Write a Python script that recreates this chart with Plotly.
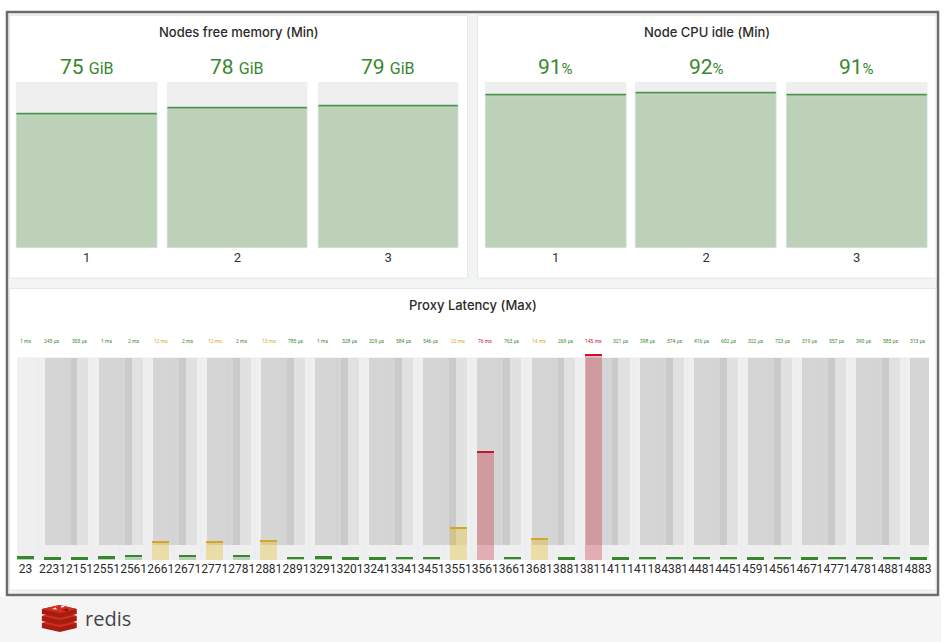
import plotly.graph_objects as go

W, H = 944, 642

# ---------------- data ----------------
mem_nodes = ["1", "2", "3"]
mem_free_gib = [75, 78, 79]

cpu_nodes = ["1", "2", "3"]
cpu_idle_pct = [91, 92, 91]

proxy_labels = ["23", "2231", "2151", "2551", "2561", "2661", "2671", "2771", "2781",
                "2881", "2891", "3291", "3201", "3241", "3341", "3451", "3551", "3561",
                "3661", "3681", "3881", "3811", "4111", "4118", "4381", "4481", "4451",
                "4591", "4561", "4671", "4771", "4781", "4881", "4883"]
proxy_latency_ms = [1, 0.245, 0.303, 1, 2, 12, 2, 12, 2, 13, 0.785, 1, 0.328, 0.329,
                    0.584, 0.546, 22, 76, 0.763, 14, 0.269, 145, 0.321, 0.398, 0.574,
                    0.416, 0.602, 0.322, 0.723, 0.319, 0.557, 0.390, 0.585, 0.313]

# ---------------- helpers ----------------
def px(x):
    return x / W

def py(y):
    return 1 - y / H

GREEN = "#37872d"
GREEN_FILL = "#bdd1b9"
BG_CELL = "#efefef"
FONT = "Roboto"

def lat_color(v):
    if v >= 50:
        return "#c4162a"
    if v >= 10:
        return "#d9a520"
    return GREEN

def lat_fill(v):
    if v >= 50:
        return "rgba(196,22,42,0.30)"
    if v >= 10:
        return "rgba(224,180,0,0.30)"
    return "rgba(55,135,45,0.30)"

def lat_text(v):
    if v < 1:
        return f"{v * 1000:.0f} µs"
    return f"{v:.0f} ms"

fig = go.Figure()

# ---------------- top panels ----------------
top_y0, top_y1 = 82, 248
top_h = top_y1 - top_y0
mem_max = 92
cpu_max = 98

def gauge_panel(vals, vmax, xa, ya, width):
    idx = list(range(len(vals)))
    thick = 2.0 * vmax / top_h
    fig.add_trace(go.Bar(x=idx, y=[vmax] * len(vals), width=width, marker=dict(color=BG_CELL, cornerradius=2),
                         xaxis=xa, yaxis=ya, hoverinfo="skip", showlegend=False))
    fig.add_trace(go.Bar(x=idx, y=vals, width=width, marker=dict(color=GREEN_FILL, cornerradius=2),
                         xaxis=xa, yaxis=ya, showlegend=False))
    fig.add_trace(go.Bar(x=idx, y=[thick] * len(vals), base=[v - thick for v in vals], width=width,
                         marker=dict(color=GREEN, cornerradius=1),
                         xaxis=xa, yaxis=ya, hoverinfo="skip", showlegend=False))

gauge_panel(mem_free_gib, mem_max, "x", "y", 0.932)
gauge_panel(cpu_idle_pct, cpu_max, "x2", "y2", 0.934)

# ---------------- bottom panel ----------------
n = len(proxy_latency_ms)
bidx = list(range(n))
bg_top_px, bot_y1, plot_top_px = 358, 560, 350
lat_bg = 143.5                       # value at the top of the grey cells
lat_px = (bot_y1 - bg_top_px) / lat_bg
lat_max = (bot_y1 - plot_top_px) / lat_px
gap = 15 / lat_px

fig.add_trace(go.Bar(x=bidx, y=[lat_bg] * n, width=1.0, marker=dict(color=BG_CELL),
                     xaxis="x3", yaxis="y3", hoverinfo="skip", showlegend=False))
pairs = list(range(0, n // 2 + 1))
for off, wdt, alpha in [(1.52, 1.62, 0.055), (1.315, 1.21, 0.05), (1.795, 0.25, 0.05)]:
    fig.add_trace(go.Bar(x=[off + 2 * k for k in pairs], y=[lat_bg - gap] * len(pairs), base=gap,
                         width=wdt, marker=dict(color=f"rgba(0,0,0,{alpha})", line=dict(width=0)),
                         xaxis="x3", yaxis="y3", hoverinfo="skip", showlegend=False))

fig.add_trace(go.Bar(x=bidx, y=proxy_latency_ms, width=0.63,
                     marker=dict(color=[lat_fill(v) for v in proxy_latency_ms], cornerradius=2, line=dict(width=0)),
                     xaxis="x3", yaxis="y3", showlegend=False))
lthick = 2.2 / lat_px
fig.add_trace(go.Bar(x=bidx, y=[lthick] * n, base=proxy_latency_ms, width=0.63,
                     marker=dict(color=[lat_color(v) for v in proxy_latency_ms], cornerradius=1, line=dict(width=0)),
                     xaxis="x3", yaxis="y3", hoverinfo="skip", showlegend=False))

# ---------------- annotations ----------------
ann = []
titles = [("Nodes free memory (Min)", 239.5, 32), ("Node CPU idle (Min)", 709, 32),
          ("Proxy Latency (Max)", 475, 305)]
for t, x, y in titles:
    ann.append(dict(text=t, x=px(x), y=py(y), xref="paper", yref="paper", showarrow=False,
                    xanchor="center", yanchor="middle",
                    font=dict(family="Inter", size=13, color="#2b2b2b", weight=500)))

for i, v in enumerate(mem_free_gib):
    ann.append(dict(text=f"{v} <span style='font-size:16px'>GiB</span>", x=i, xref="x", y=py(67), yref="paper",
                    showarrow=False, yanchor="middle", font=dict(family=FONT, size=21, color=GREEN)))
for i, v in enumerate(cpu_idle_pct):
    ann.append(dict(text=f"{v}<span style='font-size:15px'>%</span>", x=i, xref="x2", y=py(67), yref="paper",
                    showarrow=False, yanchor="middle", font=dict(family=FONT, size=21, color=GREEN)))

for i, v in enumerate(proxy_latency_ms):
    ann.append(dict(text=lat_text(v), x=i, xref="x3", y=py(341), yref="paper", showarrow=False,
                    yanchor="middle", font=dict(family=FONT, size=5, color=lat_color(v))))

ann.append(dict(text="redis", x=px(83), y=py(618), xref="paper", yref="paper", showarrow=False,
                xanchor="left", yanchor="middle", font=dict(family="Open Sans", size=20, color="#444444")))

# ---------------- shapes ----------------
def rect(x0, y0, x1, y1, fill, line=None, lw=0):
    return dict(type="rect", xref="paper", yref="paper", x0=px(x0), x1=px(x1), y0=py(y1), y1=py(y0),
                fillcolor=fill, line=dict(color=line or fill, width=lw), layer="below")

shapes = [
    rect(0, 597, 944, 642, "#f5f5f5"),
    rect(7, 12, 941, 595, "#f2f3f3", "#6d6d6d", 2.5),
    rect(9.5, 15.5, 469, 278, "#ffffff", "#e6e7e7", 1),
    rect(479, 15.5, 939, 278, "#ffffff", "#e6e7e7", 1),
    rect(9.5, 288.5, 939, 590, "#ffffff", "#e6e7e7", 1),
]

def poly(points, fill):
    d = "M " + " L ".join(f"{px(a):.5f},{py(b):.5f}" for a, b in points) + " Z"
    return dict(type="path", xref="paper", yref="paper", path=d, fillcolor=fill, line=dict(width=0), layer="above")

for k, y in enumerate([619, 612, 605]):
    shapes.append(poly([(42, y + 4), (60, y), (77, y + 4), (77, y + 9), (60, y + 13), (42, y + 9)], "#a41e11"))
    shapes.append(poly([(42, y + 4), (60, y), (77, y + 4), (60, y + 8)], "#d82c20"))
shapes.append(poly([(52, 609), (56, 607.5), (57, 609.5)], "#ffffff"))
shapes.append(poly([(61, 606), (64, 605.5), (64.5, 607), (61.5, 607.5)], "#ffffff"))
shapes.append(poly([(62, 610), (68, 608.5), (68, 611)], "#7a0c00"))

# ---------------- layout ----------------
def xdom(a, b):
    return [px(a), px(b)]

def ydom(a, b):
    return [py(b), py(a)]

axis_common = dict(showgrid=False, zeroline=False, showline=False, fixedrange=True)

fig.update_layout(
    width=W, height=H, margin=dict(l=0, r=0, t=0, b=0),
    paper_bgcolor="#ffffff", plot_bgcolor="rgba(0,0,0,0)",
    barmode="overlay", bargap=0, showlegend=False,
    font=dict(family=FONT),
    xaxis=dict(domain=xdom(11.4, 465.1), range=[-0.5, 2.5], tickvals=[0, 1, 2], ticktext=mem_nodes,
               tickfont=dict(size=13, color="#333333"), ticks="", tickangle=0, **axis_common),
    yaxis=dict(domain=ydom(top_y0, top_y1), range=[0, mem_max], showticklabels=False, **axis_common),
    xaxis2=dict(domain=xdom(482, 935), range=[-0.5, 2.5], tickvals=[0, 1, 2], ticktext=cpu_nodes,
                tickfont=dict(size=13, color="#333333"), ticks="", tickangle=0, anchor="y2", **axis_common),
    yaxis2=dict(domain=ydom(top_y0, top_y1), range=[0, cpu_max], showticklabels=False, anchor="x2", **axis_common),
    xaxis3=dict(domain=xdom(17, 932), range=[-0.313, 33.405], tickvals=bidx, ticktext=proxy_labels,
                tickfont=dict(size=12, color="#2a2a2a"), ticks="", tickangle=0, anchor="y3", **axis_common),
    yaxis3=dict(domain=ydom(plot_top_px, bot_y1), range=[0, lat_max], showticklabels=False, anchor="x3", **axis_common),
    annotations=ann, shapes=shapes,
)

fig.write_html("out.html")
